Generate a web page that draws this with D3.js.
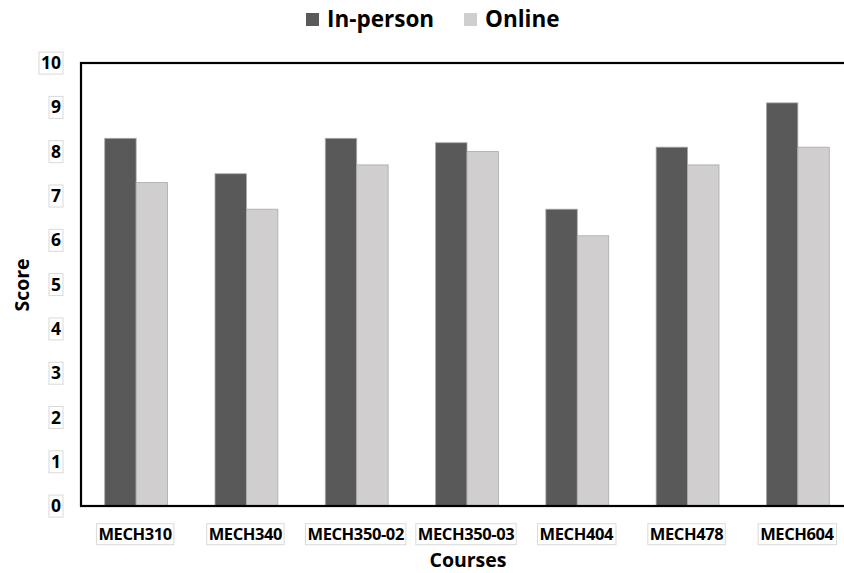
<!DOCTYPE html>
<html lang="en">
  <head>
    <meta charset="utf-8">
    <title>Scores by course</title>
    <style type="text/css">
body { margin: 0; background: #fff; }
text { font-family: "Open Sans", "DejaVu Sans", sans-serif; font-weight: bold; fill: #000; }
    </style>
  </head>
  <body>
    <div id="chart"></div>
    <script src="https://cdn.jsdelivr.net/npm/d3@7"></script>
    <script>
      var courses = ["MECH310", "MECH340", "MECH350-02", "MECH350-03", "MECH404", "MECH478", "MECH604"];
      var inPerson = [8.3, 7.5, 8.3, 8.2, 6.7, 8.1, 9.1];
      var online = [7.3, 6.7, 7.7, 8.0, 6.1, 7.7, 8.1];
      var seriesNames = ["In-person", "Online"];
      var seriesColors = ["#595959", "#d0cece"];
      var yTicks = [0, 1, 2, 3, 4, 5, 6, 7, 8, 9, 10];

      var width = 844, height = 573;
      var margin = {top: 63, right: -9, bottom: 67, left: 81};
      var innerW = width - margin.left - margin.right,
          innerH = height - margin.top - margin.bottom;

      var svg = d3.select("#chart").append("svg")
          .attr("width", width)
          .attr("height", height);

      var g = svg.append("g").attr("transform", "translate(" + margin.left + "," + margin.top + ")");

      var x = d3.scaleBand()
          .domain(courses)
          .range([0, innerW])
          .padding(0);

      var x1 = d3.scaleBand()
          .domain([0, 1])
          .range([x.bandwidth() * 0.215, x.bandwidth() * 0.785]);

      var y = d3.scaleLinear()
          .domain([0, 10])
          .range([innerH, 0]);

      var data = courses.map(function(c, i) { return {course: c, values: [inPerson[i], online[i]]}; });

      var groups = g.selectAll(".grp")
        .data(data)
        .enter().append("g")
          .attr("transform", function(d) { return "translate(" + x(d.course) + ",0)"; });

      groups.selectAll("rect")
        .data(function(d) { return d.values; })
        .enter().append("rect")
          .attr("x", function(d, i) { return x1(i); })
          .attr("y", function(d) { return y(d); })
          .attr("width", x1.bandwidth())
          .attr("height", function(d) { return y(0) - y(d); })
          .attr("fill", function(d, i) { return seriesColors[i]; })
          .attr("stroke", "#a9a9a9")
          .attr("stroke-width", 0.8);

      // frame
      g.append("rect")
          .attr("x", 0).attr("y", 0)
          .attr("width", innerW).attr("height", innerH)
          .attr("fill", "none")
          .attr("stroke", "#000")
          .attr("stroke-width", 2.2);

      // y axis labels
      var yAxis = g.append("g")
          .call(d3.axisLeft(y).tickValues(yTicks).tickSize(0).tickPadding(20).tickFormat(d3.format("d")));
      yAxis.select(".domain").remove();
      yAxis.selectAll("text")
          .attr("font-size", 17.5)
          .attr("font-family", null);

      var xAxis = g.append("g")
          .attr("transform", "translate(0," + innerH + ")")
          .call(d3.axisBottom(x).tickSize(0).tickPadding(22));
      xAxis.select(".domain").remove();
      xAxis.selectAll("text")
          .attr("font-size", 16.5)
          .attr("font-family", null)
          .attr("dx", -1)
          .style("letter-spacing", "-0.4px");

      // faint boxes round the tick labels
      g.selectAll(".tick text").each(function() {
        var b = this.getBBox();
        d3.select(this.parentNode).insert("rect", "text")
            .attr("x", b.x - 2).attr("y", b.y + 2)
            .attr("width", b.width + 4).attr("height", b.height - 2)
            .attr("fill", "#fff")
            .attr("stroke", "#d9d9d9")
            .attr("stroke-width", 1);
      });

      // axis titles
      svg.append("text")
          .attr("transform", "translate(29,285) rotate(-90)")
          .attr("text-anchor", "middle")
          .attr("font-size", 19.5)
          .text("Score");

      svg.append("text")
          .attr("x", 468).attr("y", 567)
          .attr("text-anchor", "middle")
          .attr("font-size", 19.5)
          .text("Courses");

      // legend
      var legendX = [306, 464];
      var legend = svg.selectAll(".legend")
        .data(seriesNames)
        .enter().append("g")
          .attr("transform", function(d, i) { return "translate(" + legendX[i] + ",13)"; });
      legend.append("rect")
          .attr("width", 13).attr("height", 13)
          .attr("fill", function(d, i) { return seriesColors[i]; });
      legend.append("text")
          .attr("x", 21).attr("y", 14)
          .attr("font-size", 22.5)
          .text(function(d) { return d; });
    </script>
  </body>
</html>
